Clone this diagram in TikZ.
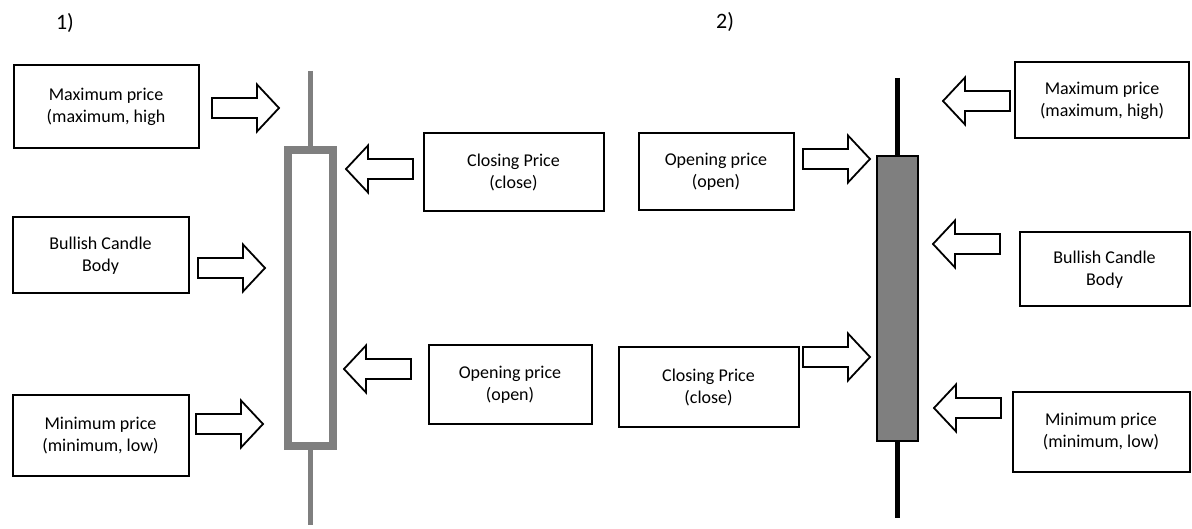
\documentclass[tikz,border=0pt]{standalone}
\usepackage{fontspec}
\setmainfont{Carlito}
\begin{document}
\begin{tikzpicture}[x=1pt,y=-1pt,
  box/.style={draw, line width=2pt, align=center, inner sep=0pt,
    font=\fontsize{18pt}{22pt}\selectfont},
  numlabel/.style={inner sep=0pt, font=\fontsize{22pt}{26pt}\selectfont},
  hollowbody/.style={draw=candlegray, line width=7.5pt, inner sep=0pt},
  filledbody/.style={draw=black, fill=candlegray, line width=2.5pt, inner sep=0pt},
  blockarrow/.pic={
    \draw[line width=1.8pt, fill=white, line join=miter]
      (0,-10) -- (45,-10) -- (45,-23.5) -- (67,0) -- (45,23.5) -- (45,10) -- (0,10) -- cycle;
  }]
\definecolor{candlegray}{HTML}{7F7F7F}
\useasboundingbox (0,0) rectangle (1192,529);

% panel numbers
\node[numlabel] (n1) at (65,23) {1)};
\node[numlabel] (n2) at (725,22) {2)};

% ---- panel 1: hollow candle ----
\coordinate (w1top) at (310.5,71);
\coordinate (w1bot) at (310.5,525);
\node[hollowbody, minimum width=45pt, minimum height=296pt, fill=white] (c1) at (310.5,298) {};
\draw[candlegray, line width=5pt] (w1top) -- (c1.north);
\draw[candlegray, line width=5pt] (c1.south) -- (w1bot);

\node[box, minimum width=185pt, minimum height=83pt] (b1) at (106,107) {Maximum price\\(maximum, high};
\node[box, minimum width=176pt, minimum height=76pt] (b2) at (100.5,255.5) {Bullish Candle\\Body};
\node[box, minimum width=176pt, minimum height=80pt] (b3) at (100.5,435.5) {Minimum price\\(minimum, low)};
\node[box, minimum width=180pt, minimum height=78pt] (b4) at (513.5,172.5) {Closing Price\\(close)};
\node[box, minimum width=163pt, minimum height=78pt] (b5) at (510,384.5) {Opening price\\(open)};

\pic at (212,108) {blockarrow};
\pic at (198,268) {blockarrow};
\pic at (196,424) {blockarrow};
\pic[xscale=-1] at (413,169) {blockarrow};
\pic[xscale=-1] at (411,369) {blockarrow};

% ---- panel 2: filled candle ----
\coordinate (w2top) at (897.5,78);
\coordinate (w2bot) at (897.5,518);
\draw[black, line width=5pt] (w2top) -- (w2bot);
\node[filledbody, minimum width=41pt, minimum height=285pt] (c2) at (897.5,298.5) {};

\node[box, minimum width=155pt, minimum height=77pt] (b6) at (716,172) {Opening price\\(open)};
\node[box, minimum width=180pt, minimum height=79pt] (b7) at (708.5,387) {Closing Price\\(close)};
\node[box, minimum width=174pt, minimum height=76pt] (b8) at (1102,100.5) {Maximum price\\(maximum, high)};
\node[box, minimum width=170pt, minimum height=74pt] (b9) at (1104.5,269.5) {Bullish Candle\\Body};
\node[box, minimum width=177pt, minimum height=79pt] (b10) at (1101,432) {Minimum price\\(minimum, low)};

\pic at (803,159) {blockarrow};
\pic at (803,357) {blockarrow};
\pic[xscale=-1] at (1010,101) {blockarrow};
\pic[xscale=-1] at (1000,244) {blockarrow};
\pic[xscale=-1] at (1001,408) {blockarrow};
\end{tikzpicture}
\end{document}
